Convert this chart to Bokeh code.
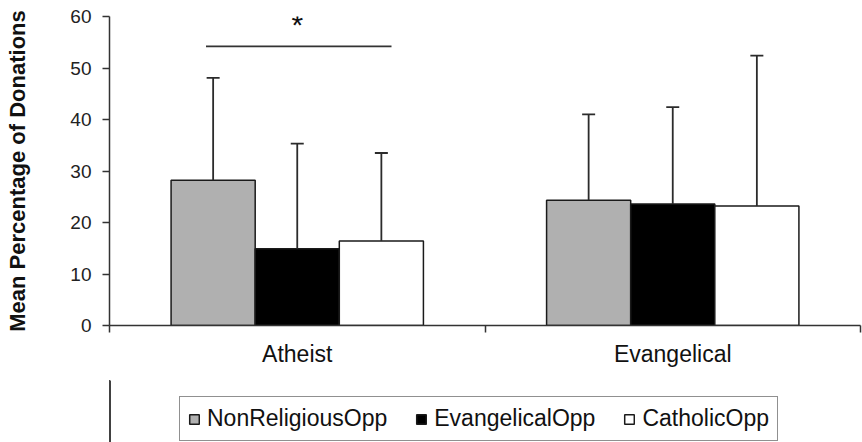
from bokeh.plotting import figure
from bokeh.layouts import column
from bokeh.models import (ColumnDataSource, Range1d, FixedTicker,
                          Whisker, TeeHead, Legend, LegendItem)
from bokeh.transform import dodge
from bokeh.core.properties import value
from bokeh.embed import file_html
from bokeh.resources import INLINE

# ---- data ----
categories = ["Atheist", "Evangelical"]
series = ["NonReligiousOpp", "EvangelicalOpp", "CatholicOpp"]
nonrel_mean = [28.2, 24.3]
nonrel_sd = [19.9, 16.7]
evan_mean = [14.9, 23.6]
evan_sd = [20.4, 18.8]
cath_mean = [16.4, 23.2]
cath_sd = [17.1, 29.2]
y_ticks = [0, 10, 20, 30, 40, 50, 60]
sig_group = ["Atheist"]
sig_y = [54.2]
star_y = [58.5]
star_text = ["*"]

fills = ["#b0b0b0", "#000000", "#ffffff"]
offsets = [-0.224, 0.0, 0.224]
bar_w = 0.224

FONT = "Liberation Sans"

# category slots: each category occupies one unit, centred at i + 0.5
centers = [i + 0.5 for i in range(len(categories))]
bounds = [float(i) for i in range(len(categories) + 1)]
cat_pos = dict(zip(categories, centers))

p = figure(x_range=Range1d(0, len(categories)),
           y_range=Range1d(0, 60),
           width=862, height=380,
           min_border_left=109, min_border_right=2, min_border_top=16, min_border_bottom=55,
           output_backend="svg", toolbar_location=None)
p.outline_line_color = None
p.grid.visible = False
p.background_fill_color = "white"

# y axis
ya = p.yaxis[0]
ya.ticker = FixedTicker(ticks=y_ticks)
ya.minor_tick_line_color = None
ya.major_tick_in = 0
ya.major_tick_out = 7
ya.axis_line_color = "#333333"
ya.axis_line_width = 1.5
ya.major_tick_line_color = "#333333"
ya.major_tick_line_width = 1.5
ya.major_label_text_font = FONT
ya.major_label_text_font_size = "19px"
ya.major_label_text_color = "#222222"
ya.major_label_standoff = 11
ya.axis_label = "Mean Percentage of Donations"
ya.axis_label_text_font = FONT
ya.axis_label_text_font_style = "bold"
ya.axis_label_text_font_size = "22px"
ya.axis_label_text_color = "#111111"
ya.axis_label_standoff = 37

# x axis: labels at category centres, tick marks at category boundaries
xa = p.xaxis[0]
xa.ticker = FixedTicker(ticks=centers, minor_ticks=bounds)
xa.major_label_overrides = {c: lab for c, lab in zip(centers, categories)}
xa.major_tick_out = 0
xa.major_tick_in = 0
xa.major_tick_line_color = None
xa.minor_tick_out = 7
xa.minor_tick_in = 0
xa.minor_tick_line_color = "#333333"
xa.minor_tick_line_width = 1.5
xa.axis_line_color = "#333333"
xa.axis_line_width = 1.5
xa.major_label_text_font = FONT
xa.major_label_text_font_size = "23px"
xa.major_label_text_color = "#111111"
xa.major_label_standoff = 8

src = ColumnDataSource(dict(x=centers,
                            m0=nonrel_mean, u0=[a + b for a, b in zip(nonrel_mean, nonrel_sd)],
                            m1=evan_mean, u1=[a + b for a, b in zip(evan_mean, evan_sd)],
                            m2=cath_mean, u2=[a + b for a, b in zip(cath_mean, cath_sd)]))

for i, name in enumerate(series):
    p.vbar(x=dodge("x", offsets[i]), top="m%d" % i, width=bar_w,
           source=src, fill_color=fills[i], line_color="#1a1a1a", line_width=1.5)
    w = Whisker(source=src, base=dodge("x", offsets[i]),
                upper="u%d" % i, lower="m%d" % i, dimension="height",
                line_color="#2b2b2b", line_width=1.8,
                upper_head=TeeHead(size=13, line_color="#2b2b2b", line_width=1.8),
                lower_head=None, level="glyph")
    p.add_layout(w)

# significance bracket
sig_src = ColumnDataSource(dict(x=[cat_pos[g] for g in sig_group], y=sig_y, ys=star_y, t=star_text))
p.segment(x0=dodge("x", -0.243), x1=dodge("x", 0.251),
          y0="y", y1="y", source=sig_src, line_color="#333333", line_width=1.8)
p.text(x="x", y="ys", text="t", source=sig_src, text_align="center", text_baseline="middle",
       text_font=value(FONT), text_font_size="30px", text_color="#111111")

# legend strip below the chart (its range is away from the data, so only the legend shows)
lp = figure(width=862, height=62, x_range=Range1d(10, 11), y_range=Range1d(0, 1),
            min_border_left=0, min_border_right=0, min_border_top=0, min_border_bottom=0,
            x_axis_location=None, y_axis_location=None,
            output_backend="svg", toolbar_location=None)
lp.outline_line_color = None
lp.grid.visible = False
items = []
for i, name in enumerate(series):
    r = lp.vbar(x=dodge("x", offsets[i]), top="m%d" % i, width=bar_w, source=src,
                fill_color=fills[i], line_color="#1a1a1a", line_width=1.5)
    items.append(LegendItem(label=name, renderers=[r], index=0))

legend = Legend(items=items, orientation="horizontal", location=(70, 1),
                glyph_width=12, glyph_height=12, label_standoff=7, spacing=28,
                padding=8, margin=0,
                label_text_font=FONT, label_text_font_size="23px", label_text_color="#111111",
                border_line_color="#222222", border_line_width=1.5,
                background_fill_color="white", background_fill_alpha=1.0)
lp.add_layout(legend, "center")

layout = column(p, lp, spacing=0)
open("out.html", "w").write(file_html(layout, INLINE))
